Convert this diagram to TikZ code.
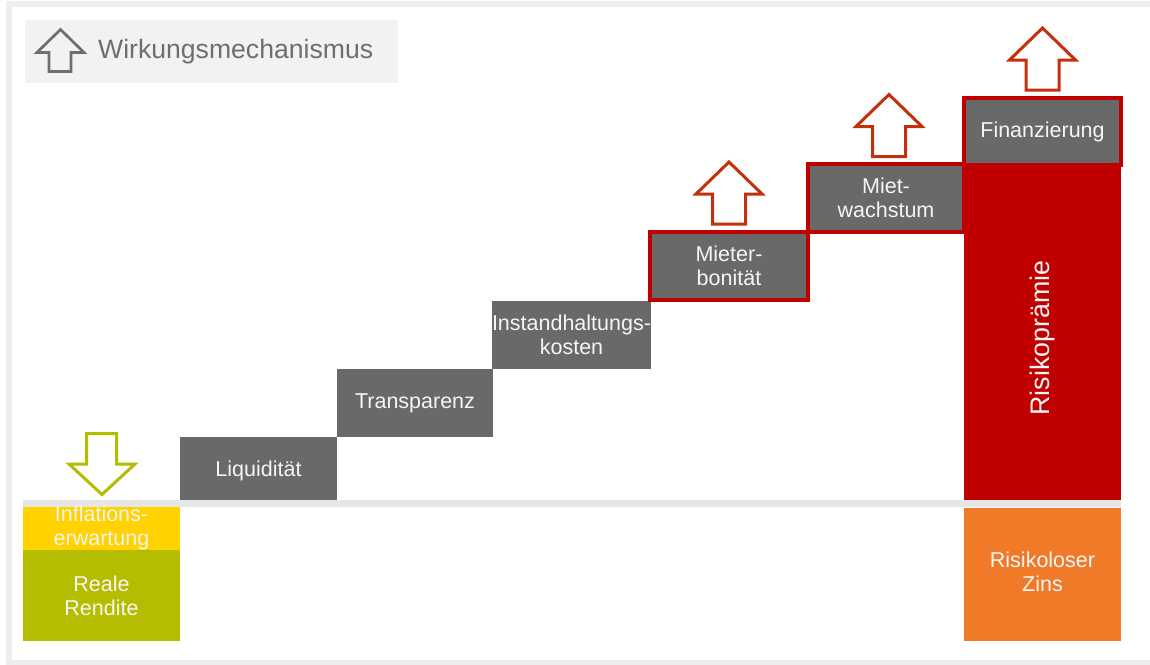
\documentclass[tikz,border=0pt]{standalone}
\usepackage{fontspec}
\setmainfont{Liberation Sans}
\definecolor{framegray}{RGB}{238,238,238}
\definecolor{legendbg}{RGB}{242,242,242}
\definecolor{iconGray}{RGB}{110,110,110}
\definecolor{stepGray}{RGB}{105,105,105}
\definecolor{bandGray}{RGB}{230,230,230}
\definecolor{riskRed}{RGB}{192,0,0}
\definecolor{arrowRed}{RGB}{196,48,12}
\definecolor{olive}{RGB}{181,189,0}
\definecolor{infYellow}{RGB}{255,210,0}
\definecolor{zinsOrange}{RGB}{240,122,40}
\definecolor{txtWhite}{RGB}{245,245,245}
\tikzset{
  stepbox/.style={fill=stepGray, draw=none, text=txtWhite, align=center,
    font=\fontsize{21.5}{24}\selectfont, inner sep=0pt},
  blockbox/.style={draw=none, text=txtWhite, align=center,
    font=\fontsize{21.5}{24}\selectfont, inner sep=0pt},
  redframe/.style={draw=riskRed, line width=4.5pt},
  uparrowshape/.style={draw=arrowRed, line width=3pt, fill=white, line join=miter},
}
\begin{document}
\begin{tikzpicture}[x=1pt,y=-1pt]
\useasboundingbox (0,0) rectangle (1150,664);
% outer frame
\begin{scope}
\clip (0,0) rectangle (1150,664);
\draw[framegray, line width=6pt] (9,3.5) rectangle (1170,663);
\end{scope}
% legend
\node[fill=legendbg, minimum width=373pt, minimum height=63pt, inner sep=0pt, anchor=north west] (legend) at (25,20) {};
\draw[iconGray, line width=2.7pt, line join=miter] (60.5,29.5) -- (84,52.5) -- (71,52.5) -- (71,71.5) -- (49,71.5) -- (49,52.5) -- (37,52.5) -- cycle;
\node[anchor=west, text=iconGray, font=\fontsize{26.6}{30}\selectfont, inner sep=0pt] (legtxt) at (98,52) {Wirkungsmechanismus};
% steps
\node[stepbox, minimum width=157pt, minimum height=68pt] (liq) at (258.5,471) {Liquidität};
\node[stepbox, minimum width=156pt, minimum height=68pt] (tra) at (415,403) {Transparenz};
\node[stepbox, minimum width=157pt, minimum height=68pt] (ins) at (571.5,335) {Instandhaltungs-\\kosten};
% red column
\node[blockbox, fill=riskRed, minimum width=157pt, minimum height=341pt, anchor=north west] (risk) at (964,164) {};
\node[rotate=90, text=txtWhite, font=\fontsize{26.8}{30}\selectfont, inner sep=0pt] (risktxt) at (1042.5,338) {Risikoprämie};
% highlighted steps
\node[stepbox, minimum width=158pt, minimum height=68pt] (mie) at (729,266) {Mieter-\\bonität};
\node[stepbox, minimum width=156pt, minimum height=68pt] (mwa) at (886,198) {Miet-\\wachstum};
\node[stepbox, minimum width=157pt, minimum height=67pt] (fin) at (1042.5,131.5) {Finanzierung};
\draw[redframe] (mie.south west) rectangle (mie.north east);
\draw[redframe] (mwa.south west) rectangle (mwa.north east);
\draw[redframe] (fin.south west) rectangle (fin.north east);
% baseline band
\node[fill=bandGray, minimum width=1098pt, minimum height=7pt, inner sep=0pt, anchor=north west] (band) at (23,500) {};
% bottom blocks
\node[blockbox, fill=infYellow, minimum width=157pt, minimum height=43pt, anchor=north west] (infl) at (23,507) {};
\node[blockbox, fill=olive, minimum width=157pt, minimum height=91pt, anchor=north west] (real) at (23,550) {};
\node[blockbox, fill=zinsOrange, minimum width=157pt, minimum height=133pt, anchor=north west] (zins) at (964,508) {};
\node[blockbox] (infltxt) at (101.5,528) {Inflations-\\erwartung};
\node[blockbox] (realtxt) at (101.5,596) {Reale\\Rendite};
\node[blockbox] (zinstxt) at (1042.5,572) {Risikoloser\\Zins};
% red up arrows
\foreach \cx/\ty in {729/162, 889/94.5, 1042.5/28} {
  \draw[uparrowshape] (\cx,\ty) -- (\cx+33,\ty+32) -- (\cx+16.5,\ty+32) -- (\cx+16.5,\ty+62) -- (\cx-16.5,\ty+62) -- (\cx-16.5,\ty+32) -- (\cx-33,\ty+32) -- cycle;
}
% green down arrow
\draw[olive, line width=3pt, fill=white, line join=miter] (86.5,433.5) -- (116.5,433.5) -- (116.5,464) -- (135,464) -- (102,494.5) -- (69,464) -- (86.5,464) -- cycle;
\end{tikzpicture}
\end{document}
